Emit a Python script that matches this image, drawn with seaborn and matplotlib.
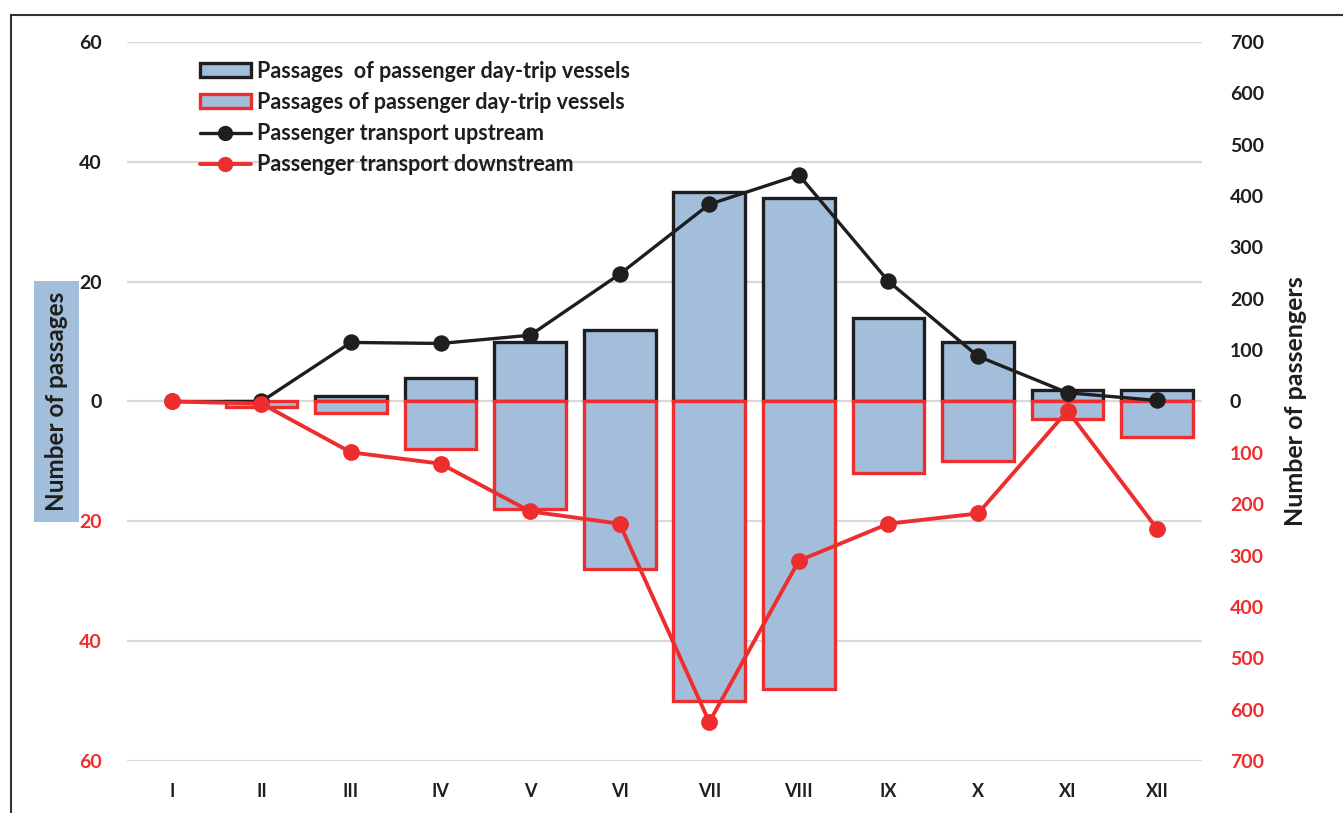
import numpy as np
import pandas as pd
import matplotlib
matplotlib.use("Agg")
import matplotlib.pyplot as plt
from matplotlib.patches import Rectangle
from matplotlib.lines import Line2D
import seaborn as sns

# Monthly data
months = ["I", "II", "III", "IV", "V", "VI", "VII", "VIII", "IX", "X", "XI", "XII"]
passages_up = [0, 0, 1, 4, 10, 12, 35, 34, 14, 10, 2, 2]
passages_down = [0, -1, -2, -8, -18, -28, -50, -48, -12, -10, -3, -6]
passengers_up = [0, 0, 115, 113, 129, 248, 384, 441, 234, 88, 17, 2]
passengers_down = [0, -4, -99, -121, -214, -238, -624, -310, -238, -218, -18, -248]

legend_labels = [
    "Passages  of passenger day-trip vessels",
    "Passages of passenger day-trip vessels",
    "Passenger transport upstream",
    "Passenger transport downstream",
]

FILL = "#a3bedb"
BLACK = "#1e1e1e"
RED = "#ee2e2e"
GRID = "#d9d9d9"

sns.set_theme(style="white")
plt.rcParams["font.family"] = ["Lato", "DejaVu Sans"]
plt.rcParams["font.weight"] = "bold"

df = pd.DataFrame({
    "month": months,
    "passages_up": passages_up,
    "passages_down": passages_down,
    "passengers_up": passengers_up,
    "passengers_down": passengers_down,
})

fig = plt.figure(figsize=(13.43, 8.13), dpi=100)
ax1 = fig.add_axes([127 / 1343, 1 - 761 / 813, (1202 - 127) / 1343, (761 - 42) / 813])
ax2 = ax1.twinx()

# Bars: upstream (black edge) and downstream (red edge)
sns.barplot(data=df, x="month", y="passages_up", order=months, ax=ax1,
            color=FILL, saturation=1, edgecolor=BLACK, linewidth=2.4,
            width=0.8, errorbar=None, zorder=2)
sns.barplot(data=df, x="month", y="passages_down", order=months, ax=ax1,
            color=FILL, saturation=1, edgecolor=RED, linewidth=2.4,
            width=0.8, errorbar=None, zorder=2)
for p in ax1.patches:
    if p.get_height() == 0:
        p.set_visible(False)

# Lines of passenger numbers on the secondary axis
sns.pointplot(data=df, x="month", y="passengers_up", order=months, ax=ax2,
              color=BLACK, markers="o", markersize=10, linewidth=2.4,
              errorbar=None)
sns.pointplot(data=df, x="month", y="passengers_down", order=months, ax=ax2,
              color=RED, markers="o", markersize=10, linewidth=2.8,
              errorbar=None)

ax1.set_xlim(-0.5, 11.5)
ax1.set_ylim(-60, 60)
ax2.set_ylim(-700, 700)

left_ticks = np.arange(-60, 61, 20)
ax1.set_yticks(left_ticks)
ax1.set_yticklabels([str(abs(t)) for t in left_ticks])
for t, lab in zip(left_ticks, ax1.get_yticklabels()):
    lab.set_color(RED if t < 0 else BLACK)

right_ticks = np.arange(-700, 701, 100)
ax2.set_yticks(right_ticks)
ax2.set_yticklabels([str(abs(t)) for t in right_ticks])
for t, lab in zip(right_ticks, ax2.get_yticklabels()):
    lab.set_color(RED if t < 0 else BLACK)

ax1.tick_params(axis="y", length=0, pad=18, labelsize=14)
ax2.tick_params(axis="y", length=0, pad=20, labelsize=14)
ax1.tick_params(axis="x", length=0, pad=16, labelsize=13, labelcolor=BLACK)
for lab in ax1.get_xticklabels() + ax1.get_yticklabels() + ax2.get_yticklabels():
    lab.set_fontweight("bold")

ax1.grid(axis="y", color=GRID, linewidth=1.6, zorder=0)
ax1.grid(axis="x", visible=False)
ax2.grid(False)
ax1.set_axisbelow(True)
for ax in (ax1, ax2):
    for s in ax.spines.values():
        s.set_visible(False)

ax1.set_xlabel("")
ax1.set_ylabel("Number of passages", fontsize=17.5, fontweight="bold", color=BLACK,
               bbox=dict(boxstyle="square,pad=0.45", facecolor=FILL, edgecolor="none"))
ax1.yaxis.set_label_coords(-0.0545, 0.5)
ax2.set_ylabel("Number of passengers", fontsize=18, fontweight="bold", color=BLACK)
ax2.yaxis.set_label_coords(1.0765, 0.5)

handles = [
    Rectangle((0, 0), 1, 1, facecolor=FILL, edgecolor=BLACK, linewidth=2.4),
    Rectangle((0, 0), 1, 1, facecolor=FILL, edgecolor=RED, linewidth=2.4),
    Line2D([], [], color=BLACK, linewidth=2.4, marker="o", markersize=10),
    Line2D([], [], color=RED, linewidth=2.8, marker="o", markersize=10),
]
leg = ax2.legend(handles, legend_labels, loc="upper left",
                 bbox_to_anchor=(0.0675, 0.974), frameon=False,
                 fontsize=15.5, handlelength=2.4, handleheight=0.65,
                 handletextpad=0.25, labelspacing=0.47, borderpad=0,
                 borderaxespad=0)
for txt in leg.get_texts():
    txt.set_fontweight("bold")
    txt.set_color(BLACK)

# Outer frame
fig.patches.append(Rectangle((11 / 1343, -0.1), 1.2, 1.1 - 15 / 813,
                             transform=fig.transFigure, fill=False,
                             edgecolor="#333333", linewidth=1.5))

fig.savefig("out.png", dpi=100)
